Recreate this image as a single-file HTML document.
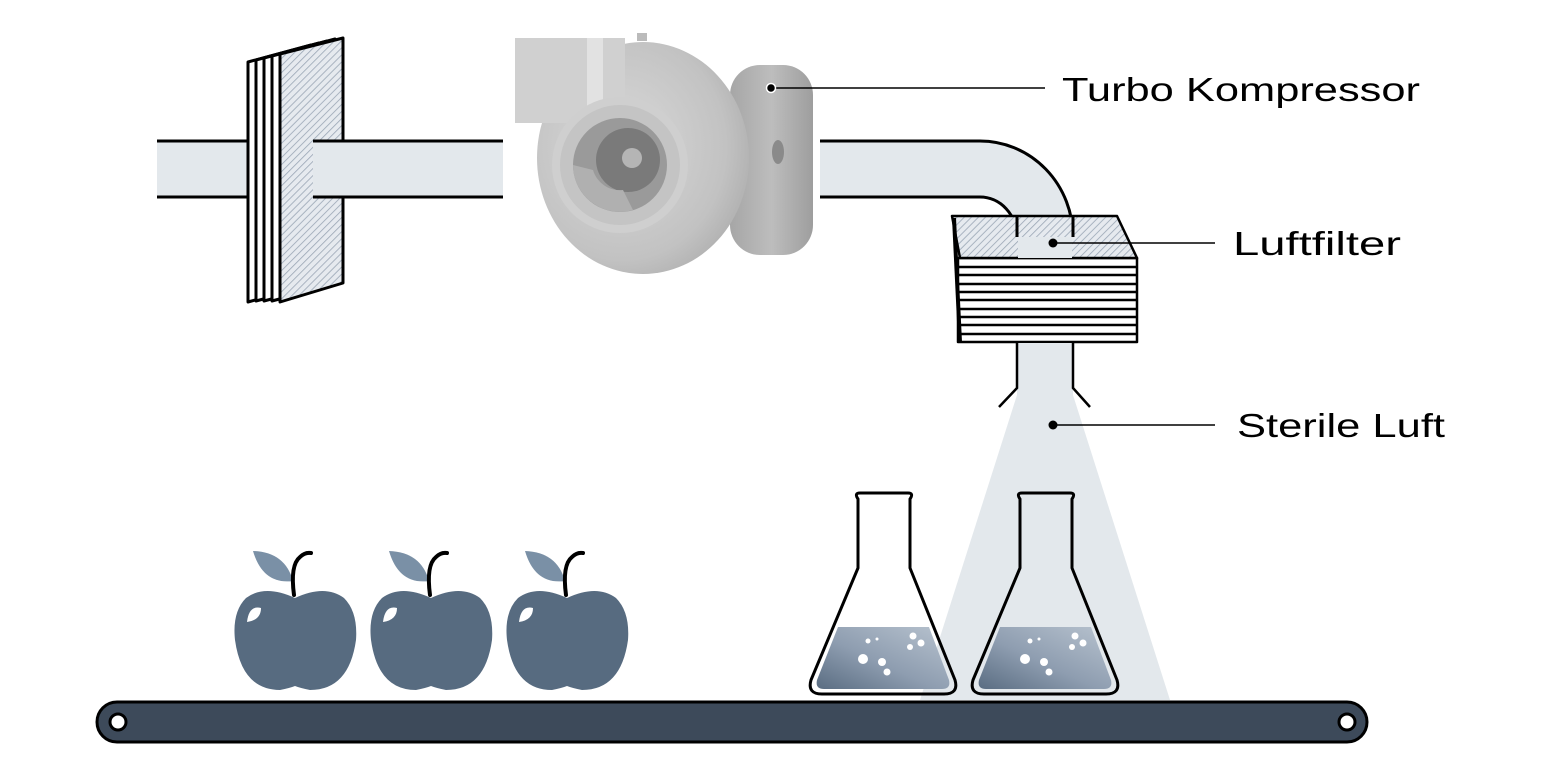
<!DOCTYPE html>
<html><head><meta charset="utf-8"><style>html,body{margin:0;padding:0;background:#fff}svg{display:block}</style></head>
<body>
<svg width="1560" height="780" viewBox="0 0 1560 780" xmlns="http://www.w3.org/2000/svg">
<defs>
<pattern id="h" width="5" height="5" patternUnits="userSpaceOnUse" patternTransform="rotate(45)">
<rect width="5" height="5" fill="#e6eaef"/><line x1="0" y1="0" x2="0" y2="5" stroke="#9aa6b5" stroke-width="1.6"/>
</pattern>
<linearGradient id="liq" x1="0" y1="1" x2="1" y2="0">
<stop offset="0" stop-color="#5a6d82"/><stop offset="0.45" stop-color="#8e9db0"/><stop offset="1" stop-color="#b8c3cf"/>
</linearGradient>
<radialGradient id="disc" cx="0.4" cy="0.45" r="0.7">
<stop offset="0" stop-color="#d9d9d9"/><stop offset="0.7" stop-color="#c2c2c2"/><stop offset="1" stop-color="#a8a8a8"/>
</radialGradient>
<linearGradient id="cyl" x1="0" y1="0" x2="1" y2="0">
<stop offset="0" stop-color="#a6a6a6"/><stop offset="0.5" stop-color="#bdbdbd"/><stop offset="1" stop-color="#9e9e9e"/>
</linearGradient>
</defs>

<!-- light cone -->
<polygon points="1017,395 1073,395 1170,700 920,700" fill="#e3e8ec"/>

<!-- left pipe -->
<rect x="157" y="141" width="346" height="56" fill="#e3e8ec"/>
<line x1="157" y1="141" x2="250" y2="141" stroke="#000" stroke-width="3"/>
<line x1="157" y1="197" x2="250" y2="197" stroke="#000" stroke-width="3"/>

<!-- filter plates -->
<g stroke="#000" stroke-width="3" stroke-linejoin="round">
<polygon points="248,62 311,45 311,285 248,302" fill="#fff"/>
<polygon points="256,60 319,43 319,284 256,301" fill="#fff"/>
<polygon points="264,58 327,41 327,284 264,301" fill="#fff"/>
<polygon points="272,56 335,39 335,284 272,301" fill="#fff"/>
<polygon points="280,54 343,38 343,283 280,302" fill="url(#h)"/>
</g>
<rect x="313" y="142.5" width="190" height="53" fill="#e3e8ec"/>
<line x1="313" y1="141" x2="503" y2="141" stroke="#000" stroke-width="3"/>
<line x1="313" y1="197" x2="503" y2="197" stroke="#000" stroke-width="3"/>

<!-- compressor -->
<rect x="730" y="65" width="83" height="190" rx="30" fill="url(#cyl)"/>
<ellipse cx="778" cy="152" rx="6" ry="12" fill="#8a8a8a"/>
<ellipse cx="643" cy="158" rx="106" ry="116" fill="url(#disc)"/>
<rect x="515" y="38" width="110" height="85" fill="#d0d0d0"/>
<rect x="587" y="38" width="16" height="70" fill="#e2e2e2"/>
<rect x="637" y="33" width="10" height="8" fill="#bbb"/>
<circle cx="620" cy="165" r="68" fill="#cfcfcf"/>
<circle cx="620" cy="165" r="60" fill="#c4c4c4"/>
<circle cx="620" cy="165" r="47" fill="#9a9a9a"/>
<circle cx="628" cy="160" r="32" fill="#7a7a7a"/>
<circle cx="632" cy="158" r="10" fill="#b5b5b5"/>
<path d="M573,165 a47,47 0 0 0 60,45 l-10,-20 a28,28 0 0 1 -30,-20z" fill="#b0b0b0"/>

<!-- right pipe with bend -->
<path d="M820,141 L980,141 A93,96 0 0 1 1073,237 L1017,237 A37,40 0 0 0 980,197 L820,197 Z" fill="#e3e8ec"/>
<path d="M820,141 L980,141 A93,96 0 0 1 1073,237" fill="none" stroke="#000" stroke-width="3"/>
<path d="M820,197 L980,197 A37,40 0 0 1 1017,237" fill="none" stroke="#000" stroke-width="3"/>

<!-- filter box -->
<g stroke="#000" stroke-width="2.5" stroke-linejoin="round">
<rect x="958" y="258" width="179" height="84" fill="#fff"/>
<polygon points="952,216 1117,216 1137,258 960,258" fill="url(#h)"/>
</g>
<rect x="1018" y="237" width="54" height="21" fill="#e3e8ec"/>
<line x1="1017" y1="216" x2="1017" y2="237" stroke="#000" stroke-width="3"/>
<line x1="1073" y1="216" x2="1073" y2="237" stroke="#000" stroke-width="3"/>
<g stroke="#000" stroke-width="2.5">
<line x1="957" y1="267" x2="1137" y2="267"/>
<line x1="957" y1="275" x2="1137" y2="275"/>
<line x1="957" y1="284" x2="1137" y2="284"/>
<line x1="957" y1="292" x2="1137" y2="292"/>
<line x1="957" y1="300" x2="1137" y2="300"/>
<line x1="957" y1="309" x2="1137" y2="309"/>
<line x1="957" y1="317" x2="1137" y2="317"/>
<line x1="957" y1="325" x2="1137" y2="325"/>
<line x1="957" y1="334" x2="1137" y2="334"/>
</g>
<line x1="954" y1="218" x2="960" y2="342" stroke="#000" stroke-width="4"/>

<!-- nozzle -->
<rect x="1017" y="343" width="56" height="52" fill="#e3e8ec"/>
<path d="M1017,343 L1017,388 L999,407" fill="none" stroke="#000" stroke-width="2.5"/>
<path d="M1073,343 L1073,388 L1090,407" fill="none" stroke="#000" stroke-width="2.5"/>

<!-- flasks -->
<g id="fl">
<path d="M838,627 L929,627 L949,680 Q951,689 942,689 L824,689 Q815,689 817,680 Z" fill="url(#liq)"/>
<path d="M858,499 Q854,493 860,493 L908,493 Q914,493 910,499 L910,568 L955,680 Q959,694 944,694 L822,694 Q807,694 811,680 L858,568 Z" fill="none" stroke="#000" stroke-width="3" stroke-linejoin="round"/>
<g fill="#fff"><circle cx="863" cy="659" r="5"/><circle cx="882" cy="662" r="4"/><circle cx="887" cy="672" r="3.5"/><circle cx="868" cy="641" r="2.5"/><circle cx="877" cy="639" r="1.5"/><circle cx="913" cy="636" r="3.5"/><circle cx="921" cy="643" r="3.5"/><circle cx="910" cy="647" r="3"/></g>
</g>
<use href="#fl" transform="translate(162,0)"/>

<!-- apples -->
<g id="ap">
<path d="M253,551 Q285,552 293,581 Q263,585 253,551Z" fill="#7a90a6"/>
<path d="M294,595 Q290,565 300,557 Q305,552 311,553" fill="none" stroke="#000" stroke-width="4" stroke-linecap="round"/>
<path d="M295,598 Q265,584 246,598 Q232,612 235,640 Q242,690 280,690 Q290,688 295,686 Q300,688 310,690 Q349,690 356,640 Q358,612 344,598 Q325,584 295,598Z" fill="#576b80"/>
<path d="M247,622 Q249,605 261,608 Q261,620 247,622Z" fill="#fff"/>
</g>
<use href="#ap" transform="translate(136,0)"/>
<use href="#ap" transform="translate(272,0)"/>

<!-- conveyor -->
<rect x="97" y="702" width="1270" height="40" rx="20" fill="#3d4a5a" stroke="#000" stroke-width="3"/>
<circle cx="118" cy="722" r="8" fill="#fff" stroke="#000" stroke-width="3"/>
<circle cx="1347" cy="722" r="8" fill="#fff" stroke="#000" stroke-width="3"/>

<!-- labels -->
<g stroke="#000" stroke-width="1.5">
<line x1="771" y1="88" x2="1045" y2="88"/>
<line x1="1053" y1="243" x2="1215" y2="243"/>
<line x1="1053" y1="425" x2="1215" y2="425"/>
</g>
<circle cx="771" cy="88" r="4.5" fill="#000" stroke="#fff" stroke-width="1.5"/>
<circle cx="1053" cy="243" r="4.5" fill="#000"/>
<circle cx="1053" cy="425" r="4.5" fill="#000"/>
<g font-family="Liberation Sans, sans-serif" font-size="33" fill="#000">
<text x="1062" y="101" textLength="358" lengthAdjust="spacingAndGlyphs">Turbo Kompressor</text>
<text x="1233" y="255" textLength="168" lengthAdjust="spacingAndGlyphs">Luftfilter</text>
<text x="1237" y="437" textLength="208" lengthAdjust="spacingAndGlyphs">Sterile Luft</text>
</g>
</svg>
</body></html>
